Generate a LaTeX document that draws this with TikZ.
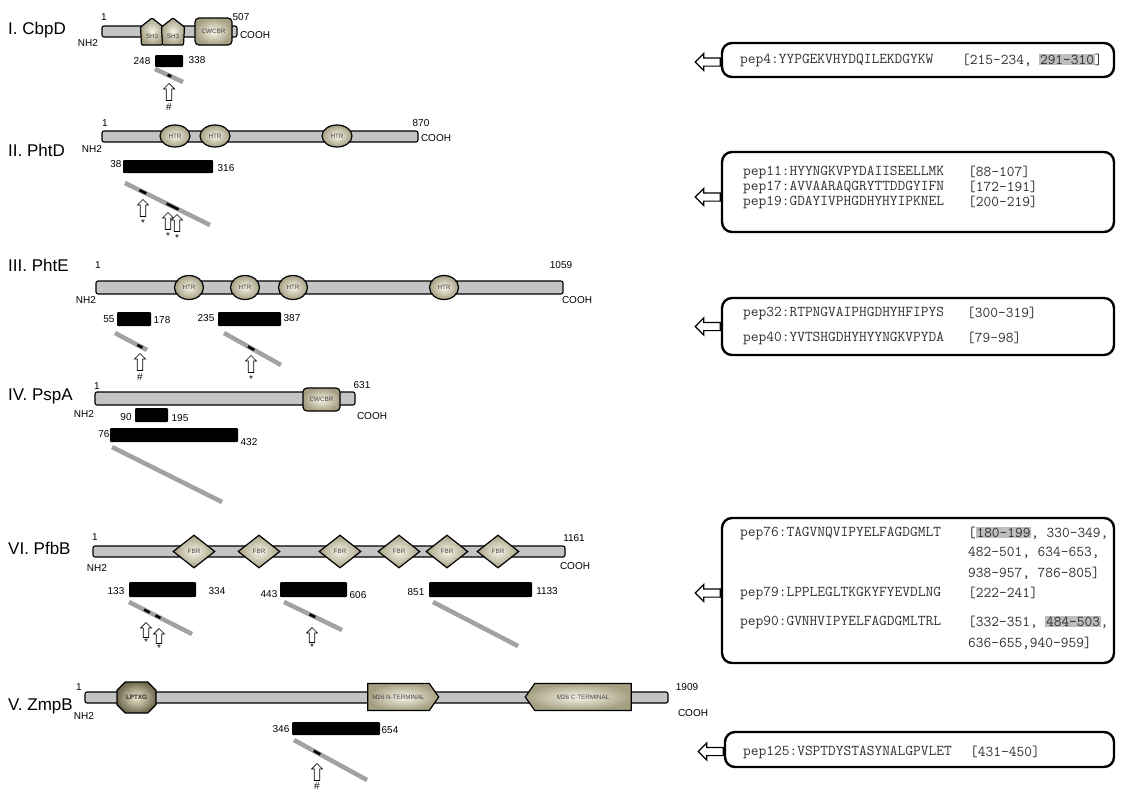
\documentclass[tikz,border=0pt]{standalone}
\usepackage{fontspec}
\setmainfont{Liberation Sans}
\usetikzlibrary{shapes.geometric,shapes.misc,shapes.symbols,shapes.arrows,calc}

\definecolor{protgray}{HTML}{C4C4C4}
\definecolor{dominner}{HTML}{F8F5E8}
\definecolor{domouter}{HTML}{A59F82}
\definecolor{domlight}{HTML}{F0EAD0}
\definecolor{domdark}{HTML}{6F6A50}
\definecolor{fraggray}{HTML}{A2A2A2}
\definecolor{hlgray}{HTML}{BDBDBD}
\definecolor{peptext}{HTML}{303030}

% rectangle-shaped node from its two corners: style, name, x1, y1, x2, y2
\newcommand\mkbox[6]{\node[#1, minimum width={(#5-#3)*1pt}, minimum height={(#6-#4)*1pt}] (#2) at ({(#3+#5)/2},{(#4+#6)/2}) {};}
% grey highlight behind a residue range
\newcommand\hlr[1]{{\setlength{\fboxsep}{0.6pt}\colorbox{hlgray}{#1}}}
% SH3 pentagon: name, centre x, top y, bottom y
\newcommand\shpent[4]{%
  \path[domfill] (#2,#3) -- ({#2+11.5},{#3+9}) -- ({#2+10.5},#4) -- ({#2-10.5},#4) -- ({#2-11.5},{#3+9}) -- cycle;
  \node[domtext] (#1) at (#2,{(#3+9+#4)/2}) {SH3};}

\tikzset{
  protbar/.style={draw, line width=1.1pt, fill=protgray, rounded corners=2pt, inner sep=0pt},
  fragbox/.style={fill=black, rounded corners=1pt, inner sep=0pt},
  domtext/.style={inner sep=0pt, text=black!75, font=\fontsize{6.3}{7}\selectfont},
  domfill/.style={draw, line width=1.2pt, inner color=dominner, outer color=domouter, rounded corners=1pt},
  dom/.style={draw, line width=1.2pt, inner color=dominner, outer color=domouter, inner sep=0pt, text=black!75, font=\fontsize{6.3}{7}\selectfont},
  title/.style={font=\fontsize{17}{19}\selectfont, inner sep=0pt, anchor=west},
  num/.style={font=\fontsize{10}{11}\selectfont, inner sep=0pt},
  fragline/.style={line width=4.5pt, draw=fraggray},
  hit/.style={line width=2.6pt, draw=black},
  uparr/.style={single arrow, draw, fill=white, line width=0.7pt, shape border rotate=90, minimum height=17pt, single arrow head extend=2.8pt, inner sep=2.4pt, anchor=tip},
  sym/.style={font=\fontsize{10}{11}\selectfont, inner sep=0pt, anchor=north},
  pepbox/.style={draw, line width=2.4pt, rounded corners=10pt, fill=white, inner sep=0pt},
  leftarr/.style={single arrow, draw, fill=white, line width=1.2pt, shape border rotate=180, minimum height=25pt, single arrow head extend=4.5pt, inner sep=3.5pt, anchor=tail},
  pep/.style={font=\ttfamily\fontsize{15}{16}\selectfont, text=peptext, inner sep=0pt, anchor=west},
}

\begin{document}
\begin{tikzpicture}[x=1pt,y=-1pt]
\fill[white] (0,0) rectangle (1124,795);
\useasboundingbox (0,0) rectangle (1124,795);

% ================= I. CbpD =================
\node[title] (t1) at (8,30) {I. CbpD};
\mkbox{protbar}{cbpd}{102}{26}{237}{37}
\shpent{cb1}{152}{18}{45}
\shpent{cb2}{173}{18}{45}
\node[dom, rounded corners=4pt, minimum width=37pt, minimum height=27pt] (cb3) at (213.5,31.5) {CWCBR};
\node[num] (cbs) at (104,17) {1};
\node[num] (cbe) at (241,17) {507};
\node[num] (cbn) at (88,43) {NH2};
\node[num] (cbc) at (255,35) {COOH};
\mkbox{fragbox}{cbf}{155}{55}{183}{67}
\node[num] (cbfa) at (142,61) {248};
\node[num] (cbfb) at (197,60) {338};
\coordinate (cbg1) at (155,69);
\coordinate (cbg2) at (183,82);
\draw[fragline] (cbg1) -- (cbg2);
\draw[hit] ($(cbg1)!0.45!(cbg2)$) -- ($(cbg1)!0.58!(cbg2)$);
\node[uparr] (cba) at (169,83) {};
\node[sym] at ($(cba.tail)+(0,3)$) {\#};

% ================= II. PhtD =================
\node[title] (t2) at (8,150) {II. PhtD};
\mkbox{protbar}{phtd}{102}{131}{418}{142}
\node[dom, ellipse, minimum width=30pt, minimum height=22pt] (pd1) at (175,136) {HTR};
\node[dom, ellipse, minimum width=30pt, minimum height=22pt] (pd2) at (215,136) {HTR};
\node[dom, ellipse, minimum width=30pt, minimum height=22pt] (pd3) at (337,136) {HTR};
\node[num] (pds) at (105,123) {1};
\node[num] (pde) at (421,123) {870};
\node[num] (pdn) at (92,149) {NH2};
\node[num] (pdc) at (436,138) {COOH};
\mkbox{fragbox}{pdf}{123}{160}{213}{173}
\node[num] (pdfa) at (116,164) {38};
\node[num] (pdfb) at (226,168) {316};
\coordinate (pdg1) at (125,183);
\coordinate (pdg2) at (210,225);
\draw[fragline] (pdg1) -- (pdg2);
\draw[hit] ($(pdg1)!0.17!(pdg2)$) -- ($(pdg1)!0.25!(pdg2)$);
\draw[hit] ($(pdg1)!0.49!(pdg2)$) -- ($(pdg1)!0.63!(pdg2)$);
\node[uparr] (pda1) at (143,199) {};
\node[sym] at ($(pda1.tail)+(0,3)$) {*};
\node[uparr] (pda2) at (168,212) {};
\node[sym] at ($(pda2.tail)+(0,3)$) {*};
\node[uparr] (pda3) at (177,214) {};
\node[sym] at ($(pda3.tail)+(0,3)$) {*};

% ================= III. PhtE =================
\node[title] (t3) at (8,265) {III. PhtE};
\mkbox{protbar}{phte}{96}{281}{563}{294}
\node[dom, ellipse, minimum width=29pt, minimum height=24pt] (pe1) at (189,287.5) {HTR};
\node[dom, ellipse, minimum width=29pt, minimum height=24pt] (pe2) at (245,287.5) {HTR};
\node[dom, ellipse, minimum width=29pt, minimum height=24pt] (pe3) at (293,287.5) {HTR};
\node[dom, ellipse, minimum width=29pt, minimum height=24pt] (pe4) at (444,287.5) {HTR};
\node[num] (pes) at (98,265) {1};
\node[num] (pee) at (561,265) {1059};
\node[num] (pen) at (86,300) {NH2};
\node[num] (pec) at (577,300) {COOH};
\mkbox{fragbox}{pef1}{117}{312}{151}{326}
\node[num] (pef1a) at (109,319) {55};
\node[num] (pef1b) at (162,320) {178};
\mkbox{fragbox}{pef2}{218}{312}{281}{326}
\node[num] (pef2a) at (206,318) {235};
\node[num] (pef2b) at (292,318) {387};
\coordinate (peg1) at (115,333);
\coordinate (peg2) at (147,350);
\draw[fragline] (peg1) -- (peg2);
\draw[hit] ($(peg1)!0.7!(peg2)$) -- ($(peg1)!0.86!(peg2)$);
\node[uparr] (pea1) at (140,353) {};
\node[sym] at ($(pea1.tail)+(0,3)$) {\#};
\coordinate (peg3) at (224,333);
\coordinate (peg4) at (281,365);
\draw[fragline] (peg3) -- (peg4);
\draw[hit] ($(peg3)!0.42!(peg4)$) -- ($(peg3)!0.53!(peg4)$);
\node[uparr] (pea2) at (251,355) {};
\node[sym] at ($(pea2.tail)+(0,3)$) {*};

% ================= IV. PspA =================
\node[title] (t4) at (8,396) {IV. PspA};
\mkbox{protbar}{pspa}{95}{392}{355}{405}
\node[dom, rounded corners=4pt, minimum width=37pt, minimum height=23pt] (pa1) at (321.5,399.5) {CWCBR};
\node[num] (pas) at (97,386) {1};
\node[num] (pae) at (362,385) {631};
\node[num] (pan) at (84,414) {NH2};
\node[num] (pac) at (372,416) {COOH};
\mkbox{fragbox}{paf1}{135}{408}{168}{422}
\node[num] (paf1a) at (126,417) {90};
\node[num] (paf1b) at (180,418) {195};
\mkbox{fragbox}{paf2}{110}{428}{238}{442}
\node[num] (paf2a) at (104,434) {76};
\node[num] (paf2b) at (249,442) {432};
\coordinate (pag1) at (112,447);
\coordinate (pag2) at (222,502);
\draw[fragline] (pag1) -- (pag2);

% ================= VI. PfbB =================
\node[title] (t6) at (8,548) {VI. PfbB};
\mkbox{protbar}{pfbb}{93}{546}{565}{557}
\foreach \x [count=\i] in {194,259,340,399,447,498}
  \node[dom, diamond, minimum width=42pt, minimum height=33pt] (pb\i) at (\x,551.5) {FBR};
\node[num] (pbs) at (95,537) {1};
\node[num] (pbe) at (574,538) {1161};
\node[num] (pbn) at (97,568) {NH2};
\node[num] (pbc) at (575,566) {COOH};
\mkbox{fragbox}{pbf1}{129}{582}{196}{597}
\node[num] (pbf1a) at (116,591) {133};
\node[num] (pbf1b) at (217,591) {334};
\mkbox{fragbox}{pbf2}{280}{582}{347}{597}
\node[num] (pbf2a) at (269,594) {443};
\node[num] (pbf2b) at (358,595) {606};
\mkbox{fragbox}{pbf3}{429}{582}{532}{597}
\node[num] (pbf3a) at (416,592) {851};
\node[num] (pbf3b) at (547,591) {1133};
\coordinate (pbg1) at (129,602);
\coordinate (pbg2) at (192,634);
\draw[fragline] (pbg1) -- (pbg2);
\draw[hit] ($(pbg1)!0.24!(pbg2)$) -- ($(pbg1)!0.33!(pbg2)$);
\draw[hit] ($(pbg1)!0.42!(pbg2)$) -- ($(pbg1)!0.5!(pbg2)$);
\node[uparr, minimum height=15pt] (pba1) at (146,622) {};
\node[sym] at ($(pba1.tail)+(0,1)$) {*};
\node[uparr, minimum height=15pt] (pba2) at (159,628) {};
\node[sym] at ($(pba2.tail)+(0,1)$) {*};
\coordinate (pbg3) at (284,602);
\coordinate (pbg4) at (342,630);
\draw[fragline] (pbg3) -- (pbg4);
\draw[hit] ($(pbg3)!0.44!(pbg4)$) -- ($(pbg3)!0.54!(pbg4)$);
\node[uparr, minimum height=15pt] (pba3) at (312,627) {};
\node[sym] at ($(pba3.tail)+(0,1)$) {*};
\coordinate (pbg5) at (433,602);
\coordinate (pbg6) at (518,646);
\draw[fragline] (pbg5) -- (pbg6);

% ================= V. ZmpB =================
\node[title] (t5) at (8,706) {V. ZmpB};
\mkbox{protbar}{zmpb}{85}{692}{668}{703}
\node[dom, chamfered rectangle, chamfered rectangle xsep=6pt, chamfered rectangle ysep=6pt, minimum width=39pt, minimum height=31pt, inner color=domlight, outer color=domdark, text=black!85, font=\bfseries\fontsize{6.3}{7}\selectfont] (zm1) at (136.5,697.5) {LPTXG};
\node[dom, signal, signal to=east, signal pointer angle=110, minimum width=71pt, minimum height=27pt, font=\fontsize{6.3}{7}\selectfont] (zm2) at (398.5,697) {M26 N-TERMINAL};
\node[dom, signal, signal to=west, signal pointer angle=110, minimum width=106pt, minimum height=27pt, font=\fontsize{6.3}{7}\selectfont] (zm3) at (583,697) {M26 C-TERMINAL};
\node[num] (zms) at (79,687) {1};
\node[num] (zme) at (687,687) {1909};
\node[num] (zmn) at (84,716) {NH2};
\node[num] (zmc) at (693,713) {COOH};
\mkbox{fragbox}{zmf}{292}{722}{380}{735}
\node[num] (zmfa) at (281,729) {346};
\node[num] (zmfb) at (390,730) {654};
\coordinate (zmg1) at (294,740);
\coordinate (zmg2) at (367,780);
\draw[fragline] (zmg1) -- (zmg2);
\draw[hit] ($(zmg1)!0.27!(zmg2)$) -- ($(zmg1)!0.36!(zmg2)$);
\node[uparr] (zma) at (317,763) {};
\node[sym] at ($(zma.tail)+(0,2)$) {\#};

% ================= peptide boxes =================
\mkbox{pepbox}{b4}{722}{43}{1114}{77}
\node[leftarr] (b4a) at ($(b4.west)+(0,2)$) {};
\node[pep] (b4l) at (740,60) {pep4:YYPGEKVHYDQILEKDGYKW};
\node[pep] (b4r) at (962,60) {[215-234, \hlr{291-310}]};

\mkbox{pepbox}{b11}{722}{152}{1114}{232}
\node[leftarr] (b11a) at ($(b11.west)+(0,5)$) {};
\node[pep] (b11l1) at (743,172) {pep11:HYYNGKVPYDAIISEELLMK};
\node[pep] (b11r1) at (968,172) {[88-107]};
\node[pep] (b11l2) at (743,187) {pep17:AVVAARAQGRYTTDDGYIFN};
\node[pep] (b11r2) at (968,187) {[172-191]};
\node[pep] (b11l3) at (743,202) {pep19:GDAYIVPHGDHYHYIPKNEL};
\node[pep] (b11r3) at (968,202) {[200-219]};

\mkbox{pepbox}{b32}{722}{298}{1114}{355}
\node[leftarr] (b32a) at (b32.west) {};
\node[pep] (b32l1) at (743,313) {pep32:RTPNGVAIPHGDHYHFIPYS};
\node[pep] (b32r1) at (967,313) {[300-319]};
\node[pep] (b32l2) at (743,338) {pep40:YVTSHGDHYHYYNGKVPYDA};
\node[pep] (b32r2) at (967,338) {[79-98]};

\mkbox{pepbox}{b76}{722}{518}{1114}{663}
\node[leftarr] (b76a) at ($(b76.west)+(0,2.5)$) {};
\node[pep] (b76l1) at (740,533) {pep76:TAGVNQVIPYELFAGDGMLT};
\node[pep] (b76r1) at (968,533) {[\hlr{180-199}, 330-349,};
\node[pep] (b76r2) at (968,553) {482-501, 634-653,};
\node[pep] (b76r3) at (968,573) {938-957, 786-805]};
\node[pep] (b76l2) at (740,593) {pep79:LPPLEGLTKGKYFYEVDLNG};
\node[pep] (b76r4) at (968,593) {[222-241]};
\node[pep] (b76l3) at (740,622) {pep90:GVNHVIPYELFAGDGMLTRL};
\node[pep] (b76r5) at (968,622) {[332-351, \hlr{484-503},};
\node[pep] (b76r6) at (968,643) {636-655,940-959]};

\mkbox{pepbox}{b125}{725}{732}{1114}{767}
\node[leftarr] (b125a) at ($(b125.west)+(0,2)$) {};
\node[pep] (b125l) at (743,752) {pep125:VSPTDYSTASYNALGPVLET};
\node[pep] (b125r) at (970,752) {[431-450]};
\end{tikzpicture}
\end{document}
